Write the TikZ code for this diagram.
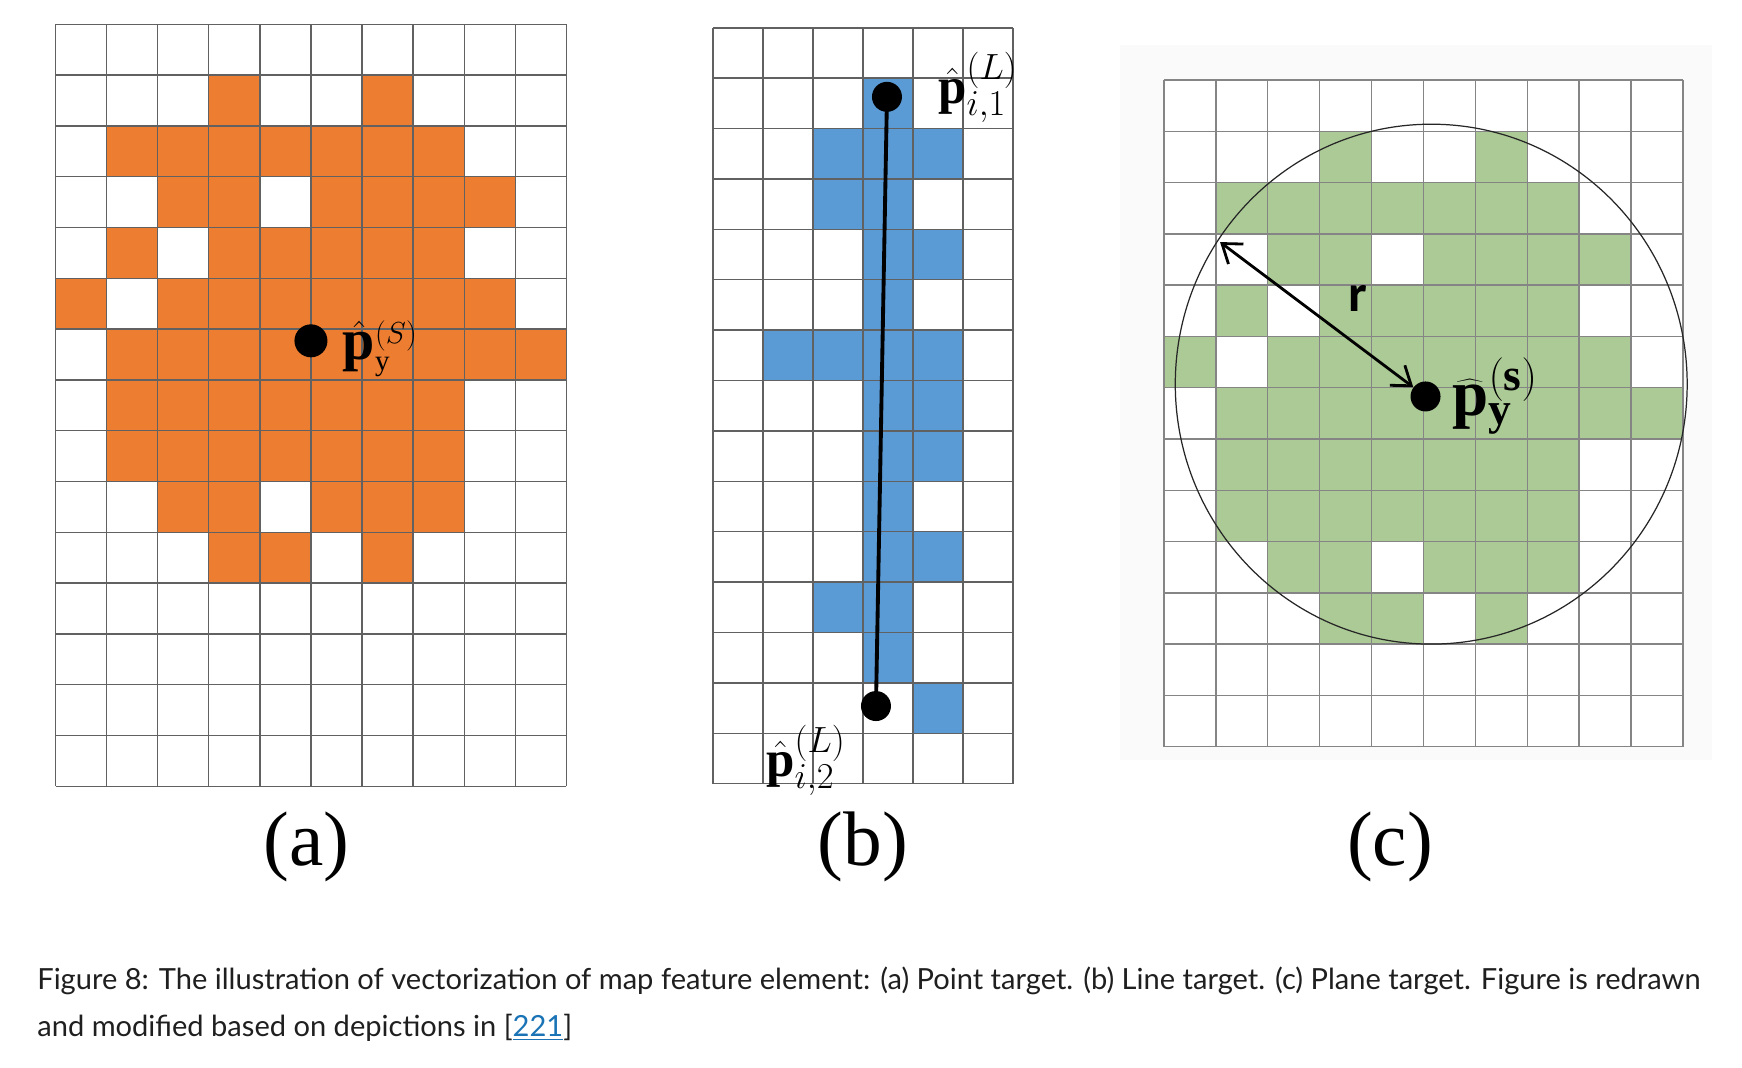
\documentclass[tikz,border=0pt]{standalone}
\usepackage{fontspec}
\setmainfont{Liberation Serif}
\newfontfamily\capfont{Lato}
\newfontfamily\rfont{Carlito}
\usetikzlibrary{arrows.meta}
\definecolor{cellorange}{RGB}{237,125,49}
\definecolor{cellblue}{RGB}{91,155,213}
\definecolor{cellgreen}{RGB}{172,202,150}
\definecolor{linkblue}{RGB}{26,115,181}
\newcommand{\blobcells}{1/{3,6},2/{1,...,7},3/{2,3,5,6,7,8},4/{1,3,4,5,6,7},5/{0,2,3,4,5,6,7,8},6/{1,...,9},7/{1,...,7},8/{1,...,7},9/{2,3,5,6,7},10/{3,4,6}}
\newcommand{\linecells}{1/{3},2/{2,3,4},3/{2,3},4/{3,4},5/{3},6/{1,2,3,4},7/{3,4},8/{3,4},9/{3},10/{3,4},11/{2,3},12/{3},13/{4}}

\begin{document}
\begin{tikzpicture}[x=0.02cm,y=-0.02cm,
dot/.style={circle,fill=black,inner sep=0pt,minimum size=0.64cm},
gridline/.style={draw=black!62,line width=0.8pt},
greengrid/.style={draw=black!48,line width=0.8pt},
segment/.style={line width=2.2pt},
rim/.style={draw=black!85,line width=0.7pt},
radiusarrow/.style={line width=1.6pt,{Straight Barb[length=3.5mm,width=5mm]}-{Straight Barb[length=3.5mm,width=5mm]}},
mlabel/.style={inner sep=0pt,anchor=base west},
sublabel/.style={font=\fontsize{44}{48}\selectfont},
capline/.style={inner sep=0pt,anchor=base west,text=black!88,font=\capfont\fontsize{16.55}{19}\selectfont}]
\useasboundingbox (0,0) rectangle (1742,1068);
% (a) point target
\begin{scope}[shift={(55.5,24.4)},x=1.022cm,y=-1.016cm]
\foreach \row/\cl in \blobcells
  \foreach \col in \cl
    \fill[cellorange] (\col,\row) rectangle ++(1,1);
\foreach \i in {0,...,10} \draw[gridline] (\i,0) -- (\i,15);
\foreach \j in {0,...,15} \draw[gridline] (0,\j) -- (10,\j);
\node[dot,minimum size=0.66cm] (pa) at (5,6.23) {};
\node[mlabel,font=\fontsize{33}{35}\selectfont] (pal) at (5.62,6.6)
  {$\hat{\mathbf{p}}^{\scriptscriptstyle(S)}_{\scriptscriptstyle\mathrm{y}}$};
\end{scope}
% (b) line target
\begin{scope}[shift={(713,27.8)},x=1cm,y=-1.008cm]
\foreach \row/\cl in \linecells
  \foreach \col in \cl
    \fill[cellblue] (\col,\row) rectangle ++(1,1);
\foreach \i in {0,...,6} \draw[gridline] (\i,0) -- (\i,15);
\foreach \j in {0,...,15} \draw[gridline] (0,\j) -- (6,\j);
\node[dot,minimum size=0.6cm] (pb1) at (3.48,1.37) {};
\node[dot,minimum size=0.6cm] (pb2) at (3.26,13.46) {};
\draw[segment] (pb1.center) -- (pb2.center);
\node[mlabel,font=\fontsize{29}{31}\selectfont] (pb1l) at (4.5,1.5)
  {$\hat{\mathbf{p}}^{(L)}_{i,1}$};
\node[mlabel,font=\fontsize{29}{31}\selectfont] (pb2l) at (1.06,14.86)
  {$\hat{\mathbf{p}}^{(L)}_{i,2}$};
\end{scope}
% (c) plane target
\fill[black!2] (1120,45) rectangle (1712,760);
\begin{scope}[shift={(1164,80)},x=1.038cm,y=-1.026cm]
\fill[white] (0,0) rectangle (10,13);
\foreach \row/\cl in \blobcells
  \foreach \col in \cl
    \fill[cellgreen] (\col,\row) rectangle ++(1,1);
\foreach \i in {0,...,10} \draw[greengrid] (\i,0) -- (\i,13);
\foreach \j in {0,...,13} \draw[greengrid] (0,\j) -- (10,\j);
\coordinate (cc) at (5.15,5.93);
\draw[rim] (cc) ellipse [x radius=5.12cm,y radius=5.2cm];
\node[dot,minimum size=0.6cm] (pc) at (5.04,6.17) {};
\coordinate (re) at (1.08,3.16);
\draw[radiusarrow] (re) -- (pc);
\node[font=\rfont\bfseries\fontsize{30}{32}\selectfont] (rl) at (3.74,4.25) {r};
\node[mlabel,font=\fontsize{37}{39}\selectfont] (pcl) at (5.55,6.55)
  {$\widehat{\mathbf{p}}^{(\mathbf{s})}_{\mathbf{y}}$};
\end{scope}
% sub-figure labels
\node[sublabel] (la) at (306.6,846.6) {(a)};
\node[sublabel] (lb) at (863,846.6) {(b)};
\node[sublabel] (lc) at (1390,846.6) {(c)};
% caption
\node[capline] (cap1) at (37,989) {Figure 8: The illustration of vectorization of map feature element: (a) Point target. (b) Line target. (c) Plane target. Figure is redrawn};
\node[capline] (cap2) at (37,1036.6) {and modified based on depictions in [{\color{linkblue}\underline{221}}]};
\end{tikzpicture}
\end{document}
